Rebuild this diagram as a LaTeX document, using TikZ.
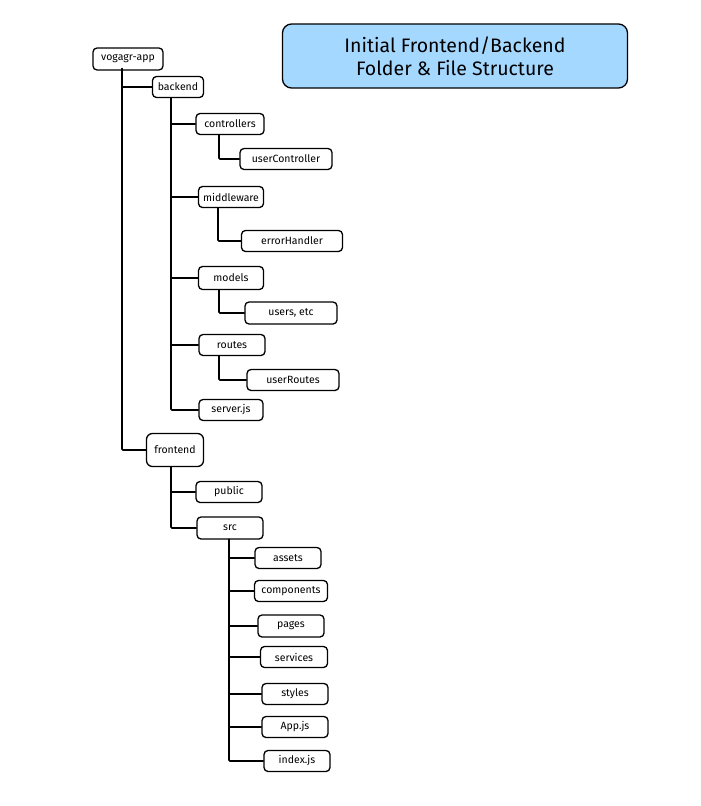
\documentclass[tikz,border=0pt]{standalone}
\usepackage{fontspec}
\setmainfont{Fira Sans}
\definecolor{titleblue}{HTML}{A5D8FF}
\begin{document}
\begin{tikzpicture}[x=1pt, y=-1pt,
				    folder/.style={draw, rounded corners=4pt, fill=white, line width=1.3pt,
				    			  minimum height=21pt, minimum width=66pt, inner sep=2pt,
				    			  text centered, text=black, font=\fontsize{10.5}{12}\selectfont},
				    branch/.style={line width=1.6pt, line cap=round, rounded corners=1pt}]
	\useasboundingbox (0,0) rectangle (701,806);
	\node[draw, line width=1.3pt, rounded corners=9pt, fill=titleblue, minimum width=345pt,
	      minimum height=64pt, align=center, font=\fontsize{19.5}{23}\selectfont] (title) at (455,56)
	      {Initial Frontend/Backend\\Folder \& File Structure};
	\node[folder, minimum width=70pt, minimum height=22pt] (app) at (128,59) {vogagr-app};
	\node[folder, minimum width=51pt] (backend) at (178,87) {backend};
	\node[folder, minimum width=68pt] (ctrl) at (230,124) {controllers};
	\node[folder, minimum width=92pt] (userctrl) at (286,159) {userController};
	\node[folder, minimum width=65pt] (mid) at (231,197) {middleware};
	\node[folder, minimum width=101pt] (errh) at (292,241) {errorHandler};
	\node[folder, minimum width=65pt, minimum height=23pt] (models) at (231,278) {models};
	\node[folder, minimum width=92pt, minimum height=22pt] (users) at (291,313) {users, etc};
	\node[folder, minimum width=66pt] (routes) at (232,345) {routes};
	\node[folder, minimum width=92pt] (uroutes) at (293,380) {userRoutes};
	\node[folder, minimum width=64pt] (server) at (231,410) {server.js};
	\node[folder, minimum width=57pt, minimum height=33pt, rounded corners=6pt] (frontend) at (175,450) {frontend};
	\node[folder, minimum width=66pt] (public) at (229,492) {public};
	\node[folder, minimum width=66pt, minimum height=22pt] (src) at (230,528) {src};
	\node[folder, minimum width=66pt] (assets) at (288,558) {assets};
	\node[folder, minimum width=73pt] (comps) at (291,591) {components};
	\node[folder, minimum width=66pt, minimum height=22pt] (pages) at (291,626) {pages};
	\node[folder, minimum width=67pt] (services) at (294,657) {services};
	\node[folder, minimum width=66pt] (styles) at (295,694) {styles};
	\node[folder, minimum width=66pt] (appjs) at (295,727) {App.js};
	\node[folder, minimum width=66pt] (index) at (297,761) {index.js};

	\draw[branch] ([xshift=-6pt, yshift=2pt]app.south) |- (backend.west);
	\draw[branch] ([xshift=-6pt, yshift=2pt]app.south) |- (frontend.west);
	\foreach \c in {ctrl, mid, models, routes, server}
		\draw[branch] ([xshift=-7pt]backend.south) |- (\c.west);
	\draw[branch] ([xshift=-11pt]ctrl.south) |- (userctrl.west);
	\draw[branch] ([xshift=-13pt]mid.south) |- (errh.west);
	\draw[branch] ([xshift=-12pt]models.south) |- (users.west);
	\draw[branch] ([xshift=-13pt]routes.south) |- (uroutes.west);
	\foreach \c in {public, src}
		\draw[branch] ([xshift=-4pt]frontend.south) |- (\c.west);
	\foreach \c in {assets, comps, pages, services, styles, appjs, index}
		\draw[branch] ([xshift=-1pt]src.south) |- (\c.west);
\end{tikzpicture}
\end{document}
